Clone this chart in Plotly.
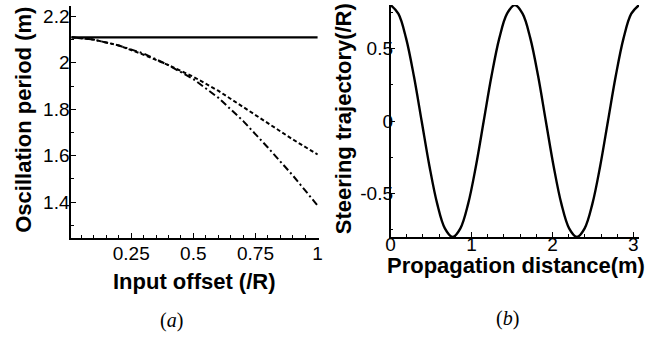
import plotly.graph_objects as go

# ---- data ----
offset = [0.01, 0.1, 0.2, 0.3, 0.4, 0.5, 0.6, 0.7, 0.8, 0.9, 1.0]
period_solid = [2.11] * len(offset)
period_dashed = [2.11, 2.10, 2.075, 2.035, 1.99, 1.94, 1.88, 1.81, 1.74, 1.67, 1.605]
period_dashdot = [2.11, 2.10, 2.075, 2.04, 1.99, 1.93, 1.85, 1.75, 1.635, 1.515, 1.385]

distance = [0, 0.096, 0.192, 0.288, 0.384, 0.480, 0.576, 0.671, 0.767, 0.863, 0.959,
            1.055, 1.151, 1.247, 1.343, 1.439, 1.535, 1.631, 1.727, 1.823, 1.918,
            2.014, 2.110, 2.206, 2.302, 2.398, 2.494, 2.590, 2.686, 2.782, 2.878,
            2.974, 3.070]
trajectory = [0.8, 0.74, 0.57, 0.31, 0, -0.31, -0.57, -0.74, -0.8, -0.74, -0.57,
              -0.31, 0, 0.31, 0.57, 0.74, 0.8, 0.74, 0.57, 0.31, 0,
              -0.31, -0.57, -0.74, -0.8, -0.74, -0.57, -0.31, 0, 0.31, 0.57,
              0.74, 0.8]

left_xticks = [0.25, 0.5, 0.75, 1]
left_xticklabels = ["0.25", "0.5", "0.75", "1"]
left_yticks = [1.4, 1.6, 1.8, 2.0, 2.2]
left_yticklabels = ["1.4", "1.6", "1.8", "2", "2.2"]
right_xticks = [0, 1, 2, 3]
right_yticks = [-0.5, 0, 0.5]
right_yticklabels = ["-0.5", "0", "0.5"]

W, H = 647, 337
fig = go.Figure()

fig.add_trace(go.Scatter(x=offset, y=period_solid, mode="lines",
                         line=dict(color="black", width=2.2), xaxis="x", yaxis="y"))
fig.add_trace(go.Scatter(x=offset, y=period_dashed, mode="lines",
                         line=dict(color="black", width=2, dash="4px,2.5px"),
                         xaxis="x", yaxis="y"))
fig.add_trace(go.Scatter(x=offset, y=period_dashdot, mode="lines",
                         line=dict(color="black", width=2, dash="7px,3px,2px,3px"),
                         xaxis="x", yaxis="y"))
fig.add_trace(go.Scatter(x=distance, y=trajectory, mode="lines",
                         line=dict(color="black", width=2.4, shape="spline"),
                         xaxis="x2", yaxis="y2"))

tickfont = dict(family="Liberation Sans, Arial", size=19, color="black")
common = dict(showline=True, linecolor="black", linewidth=1.5, ticks="inside",
              ticklen=5, tickwidth=1.2, tickcolor="black", showgrid=False,
              zeroline=False, mirror=False, tickfont=tickfont)

def minor(d):
    return dict(dtick=d, tick0=0, ticks="inside", ticklen=3, tickcolor="black", tickwidth=1)

fig.update_layout(
    width=W, height=H, margin=dict(l=0, r=0, t=0, b=0),
    paper_bgcolor="white", plot_bgcolor="white", showlegend=False,
    xaxis=dict(domain=[67 / W, 318 / W], range=[0.008, 1.004], anchor="y",
               tickvals=left_xticks, ticktext=left_xticklabels, minor=minor(0.05),
               ticklabelstandoff=-3, **common),
    yaxis=dict(domain=[(H - 238) / H, (H - 6) / H], range=[1.245, 2.245], anchor="x",
               tickvals=left_yticks, ticktext=left_yticklabels, minor=minor(0.1),
               ticklabelstandoff=-4, **common),
    xaxis2=dict(domain=[391 / W, 643 / W], range=[0, 3.07], anchor="y2",
                tickvals=right_xticks, minor=minor(0.2),
                ticklabelstandoff=-11, **common),
    yaxis2=dict(domain=[(H - 237) / H, (H - 5) / H], range=[-0.8, 0.8], anchor="x2",
                tickvals=right_yticks, ticktext=right_yticklabels, minor=minor(0.25),
                ticklabelstandoff=-8, **common),
)

titlefont = dict(family="Liberation Sans, Arial", size=22, color="black")
labfont = dict(family="Liberation Serif, Times New Roman", size=20, color="black")

def ann(text, px, py, font, angle=0):
    fig.add_annotation(text=text, x=px / W, y=1 - py / H, xref="paper", yref="paper",
                       showarrow=False, xanchor="center", yanchor="middle",
                       font=font, textangle=angle)

ann("<b>Input offset (/R)</b>", 192, 281, titlefont)
ann("<b>Propagation distance(m)</b>", 518, 265, titlefont)
ann("<b>Oscillation period (m)</b>", 18, 120, titlefont, -90)
ann("<b>Steering trajectory(/R)</b>", 343, 119, titlefont, -90)
ann("(<i>a</i>)", 169, 320, labfont)
ann("(<i>b</i>)", 510, 318, labfont)

fig.write_html("out.html", config={"displayModeBar": False},
               post_script="document.body.style.margin='0';document.body.style.overflow='hidden';")
